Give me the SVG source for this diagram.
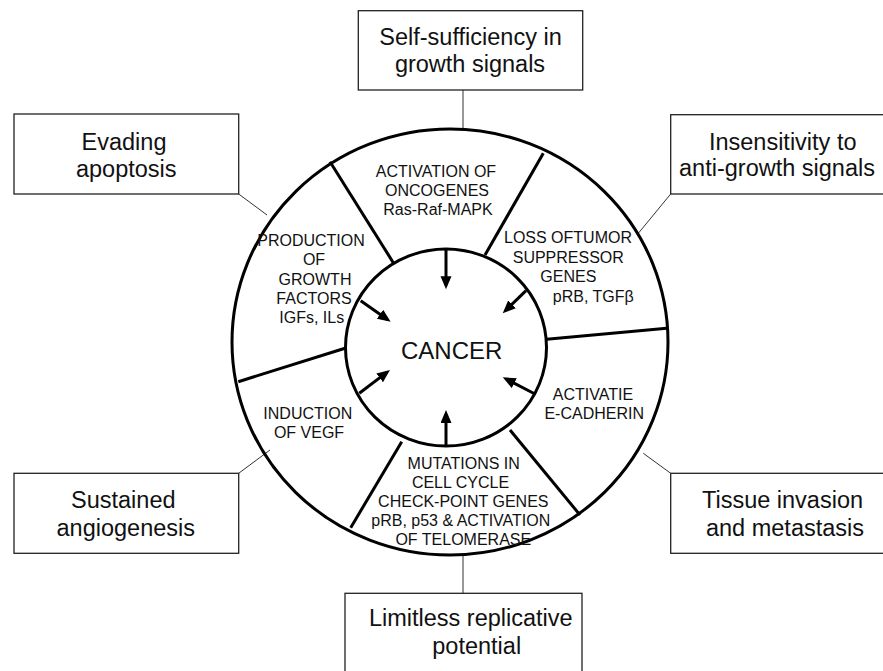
<svg xmlns="http://www.w3.org/2000/svg" width="883" height="671" viewBox="0 0 883 671">
<style>
.box{fill:#fff;stroke:#222;stroke-width:1.3}
.bt{font-family:"Liberation Sans",Arial,sans-serif;font-size:23.5px;fill:#111;text-anchor:middle}
.it{font-family:"Liberation Sans",Arial,sans-serif;font-size:16px;fill:#111;text-anchor:middle}
.ring{fill:none;stroke:#000;stroke-width:3}
.div{stroke:#000;stroke-width:3;fill:none}
.conn{stroke:#333;stroke-width:1;fill:none}
.arr{stroke:#000;stroke-width:3;fill:none;marker-end:url(#ah)}
</style>
<defs>
<marker id="ah" markerUnits="userSpaceOnUse" markerWidth="14" markerHeight="12" refX="9" refY="5.5" orient="auto">
<path d="M0,0 L13,5.5 L0,11 z" fill="#000"/>
</marker>
</defs>
<rect width="883" height="671" fill="#fff"/>
<g id="connectors">
<line class="conn" x1="463" y1="90" x2="463" y2="129"/>
<line class="conn" x1="238.7" y1="194" x2="267" y2="215"/>
<line class="conn" x1="670.7" y1="194" x2="638.3" y2="233.3"/>
<line class="conn" x1="238.7" y1="473.3" x2="270" y2="450"/>
<line class="conn" x1="670.7" y1="473.3" x2="643.3" y2="453.3"/>
<line class="conn" x1="463" y1="555" x2="463" y2="593.3"/>
</g>
<g id="ring">
<ellipse class="ring" cx="450" cy="342" rx="218" ry="213"/>
<line class="div" x1="330" y1="161.7" x2="393.3" y2="262.7"/>
<line class="div" x1="543.3" y1="153.3" x2="485" y2="255"/>
<line class="div" x1="546.7" y1="339.3" x2="666.7" y2="328.3"/>
<line class="div" x1="510" y1="430" x2="580" y2="515"/>
<line class="div" x1="401.7" y1="441.7" x2="350.7" y2="527.7"/>
<line class="div" x1="345" y1="348.3" x2="238.3" y2="381.7"/>
<ellipse class="ring" cx="446" cy="347.5" rx="100.5" ry="98.5"/>
</g>
<g id="arrows">
<line class="arr" x1="446" y1="250" x2="446" y2="285.3"/>
<line class="arr" x1="526" y1="290.7" x2="505.6" y2="310.5"/>
<line class="arr" x1="360.7" y1="300.7" x2="387.4" y2="319.4"/>
<line class="arr" x1="359.3" y1="393.3" x2="386.8" y2="372.4"/>
<line class="arr" x1="446" y1="446.7" x2="446" y2="414"/>
<line class="arr" x1="535" y1="394" x2="506.3" y2="379.1"/>
</g>
<g id="cancer">
<text class="it" style="font-size:24px" x="451.7" y="359.3">CANCER</text>
</g>
<g id="seg-oncogenes">
<text class="it" x="436" y="177.3">ACTIVATION OF</text>
<text class="it" x="437" y="196">ONCOGENES</text>
<text class="it" x="438" y="215">Ras-Raf-MAPK</text>
</g>
<g id="seg-tumor-suppressor">
<text class="it" x="568" y="242.7">LOSS OFTUMOR</text>
<text class="it" x="568.3" y="262.7">SUPPRESSOR</text>
<text class="it" x="568.3" y="281.7">GENES</text>
<text class="it" x="593.3" y="302.3">pRB, TGFβ</text>
</g>
<g id="seg-growth-factors">
<text class="it" x="311" y="246">PRODUCTION</text>
<text class="it" x="314" y="265">OF</text>
<text class="it" x="315" y="285">GROWTH</text>
<text class="it" x="314" y="304">FACTORS</text>
<text class="it" x="311.7" y="323.3">IGFs, ILs</text>
</g>
<g id="seg-cadherin">
<text class="it" x="593" y="400">ACTIVATIE</text>
<text class="it" x="594.2" y="419">E-CADHERIN</text>
</g>
<g id="seg-vegf">
<text class="it" x="307.8" y="419.3">INDUCTION</text>
<text class="it" x="309" y="438.3">OF VEGF</text>
</g>
<g id="seg-mutations">
<text class="it" x="463.7" y="469">MUTATIONS IN</text>
<text class="it" x="460.5" y="488.3">CELL CYCLE</text>
<text class="it" x="463.3" y="506.7">CHECK-POINT GENES</text>
<text class="it" x="460.8" y="526">pRB, p53 &amp; ACTIVATION</text>
<text class="it" x="463.3" y="545">OF TELOMERASE</text>
</g>
<g id="box-self-sufficiency">
<rect class="box" x="358.3" y="10.7" width="224.4" height="79.3"/>
<text class="bt" x="470.5" y="45">Self-sufficiency in</text>
<text class="bt" x="470" y="72">growth signals</text>
</g>
<g id="box-evading-apoptosis">
<rect class="box" x="14" y="114" width="224.7" height="80"/>
<text class="bt" x="124" y="150">Evading</text>
<text class="bt" x="126.3" y="177">apoptosis</text>
</g>
<g id="box-insensitivity">
<rect class="box" x="670.7" y="114.7" width="225" height="79.3"/>
<text class="bt" x="782.7" y="150">Insensitivity to</text>
<text class="bt" x="777" y="176">anti-growth signals</text>
</g>
<g id="box-angiogenesis">
<rect class="box" x="14" y="473.3" width="224.7" height="80"/>
<text class="bt" x="123.3" y="508.3">Sustained</text>
<text class="bt" x="125.8" y="536">angiogenesis</text>
</g>
<g id="box-invasion">
<rect class="box" x="670.7" y="473.3" width="225" height="80"/>
<text class="bt" x="782.5" y="508.3">Tissue invasion</text>
<text class="bt" x="785" y="536">and metastasis</text>
</g>
<g id="box-replicative">
<rect class="box" x="345" y="593.3" width="237" height="90"/>
<text class="bt" x="470.8" y="626">Limitless replicative</text>
<text class="bt" x="476.7" y="654">potential</text>
</g>
</svg>
